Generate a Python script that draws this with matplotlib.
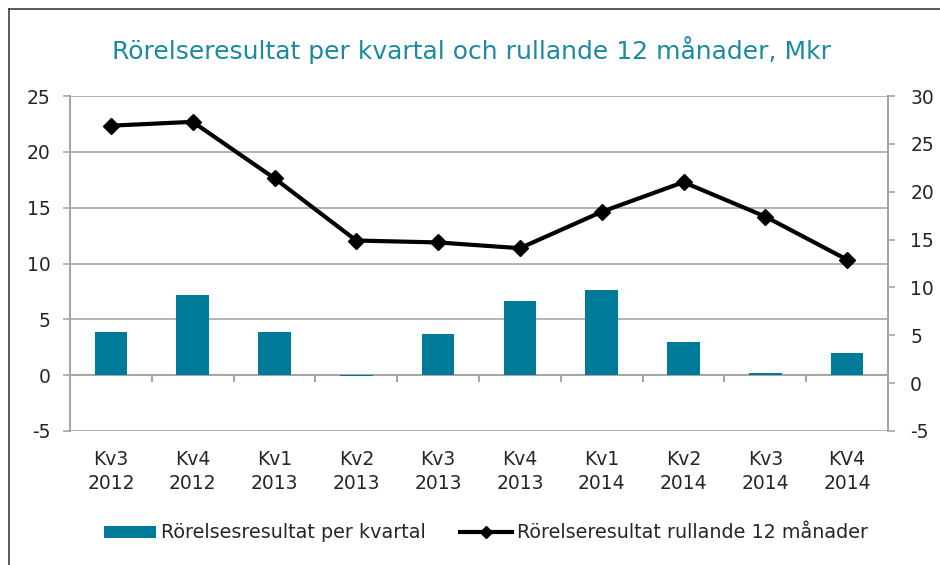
import matplotlib
matplotlib.use("Agg")
import matplotlib.pyplot as plt
from matplotlib.lines import Line2D
from matplotlib.patches import Patch
import numpy as np

plt.rcParams['font.family'] = ['DejaVu Sans']
plt.rcParams['axes.unicode_minus'] = False

categories = ["Kv3\n2012", "Kv4\n2012", "Kv1\n2013", "Kv2\n2013", "Kv3\n2013",
              "Kv4\n2013", "Kv1\n2014", "Kv2\n2014", "Kv3\n2014", "KV4\n2014"]
quarterly = [3.9, 7.2, 3.9, -0.1, 3.7, 6.6, 7.6, 3.0, 0.2, 2.0]
rolling12 = [26.9, 27.3, 21.4, 14.9, 14.7, 14.1, 17.9, 21.0, 17.4, 12.9]
left_ticks = [-5, 0, 5, 10, 15, 20, 25]
right_ticks = [-5, 0, 5, 10, 15, 20, 25, 30]

title = "Rörelseresultat per kvartal och rullande 12 månader, Mkr"
bar_label = "Rörelsesresultat per kvartal"
line_label = "Rörelseresultat rullande 12 månader"

bar_color = "#007A99"
grid_color = "#A6A6A6"
text_color = "#262626"

fig = plt.figure(figsize=(9.4, 5.65), dpi=100)
ax = fig.add_axes([70/940, 1-431/565, (888-70)/940, (431-96)/565])
ax2 = ax.twinx()

x = np.arange(len(categories))
ax.bar(x, quarterly, width=0.4, color=bar_color, zorder=3)
ax.set_xlim(-0.5, len(categories) - 0.5)
ax.set_ylim(-5, 25)
ax.set_yticks(left_ticks)
ax.yaxis.grid(True, color=grid_color, linewidth=1.2, zorder=0)
ax.set_axisbelow(True)

# zero line with category boundary ticks
ax.spines['bottom'].set_position(('data', 0))
ax.spines['bottom'].set_color(grid_color)
ax.spines['bottom'].set_linewidth(1.5)
ax.set_xticks(x[:-1] + 0.5)
ax.tick_params(axis='x', direction='out', length=5, width=1.5, color=grid_color, labelbottom=False)

sec = ax.secondary_xaxis('bottom')
sec.set_xticks(x, categories)
sec.tick_params(length=0, pad=14, labelsize=13.5, labelcolor=text_color)
sec.spines['bottom'].set_visible(False)
for lab in sec.get_xticklabels():
    lab.set_linespacing(1.3)

ax.tick_params(axis='y', direction='out', length=5, width=1.2, color=grid_color,
               labelsize=13.5, labelcolor=text_color, pad=9)
for s in ['top', 'right']:
    ax.spines[s].set_visible(False)
ax.spines['left'].set_color(grid_color)
ax.spines['left'].set_linewidth(1.5)

ax2.plot(x, rolling12, color='black', linewidth=3, marker='D', markersize=8.5, zorder=5)
ax2.set_ylim(-5, 30)
ax2.set_yticks(right_ticks)
ax2.tick_params(axis='y', direction='out', length=5, width=1.2, color=grid_color,
                labelsize=13.5, labelcolor=text_color, pad=11)
for s in ['top', 'left', 'bottom']:
    ax2.spines[s].set_visible(False)
ax2.spines['right'].set_color(grid_color)
ax2.spines['right'].set_linewidth(1.5)

fig.text(472/940, 1-50/565, title, ha='center', va='center', fontsize=18, color="#1A8AA1")

handles = [Patch(facecolor=bar_color, edgecolor='none'),
           Line2D([0], [0], color='black', linewidth=3, marker='D', markersize=6)]
fig.legend(handles, [bar_label, line_label], loc='center', bbox_to_anchor=(486/940, 1-533/565),
           ncol=2, frameon=False, fontsize=13.8, handlelength=2.7, handleheight=0.6,
           columnspacing=1.8, handletextpad=0.25, labelcolor=text_color)

# outer frame
fig.add_artist(Line2D([9/940, 1], [1-9/565, 1-9/565], color="#404040", linewidth=1.2))
fig.add_artist(Line2D([9/940, 9/940], [0, 1-9/565], color="#404040", linewidth=1.2))

fig.savefig("out.png", dpi=100)
